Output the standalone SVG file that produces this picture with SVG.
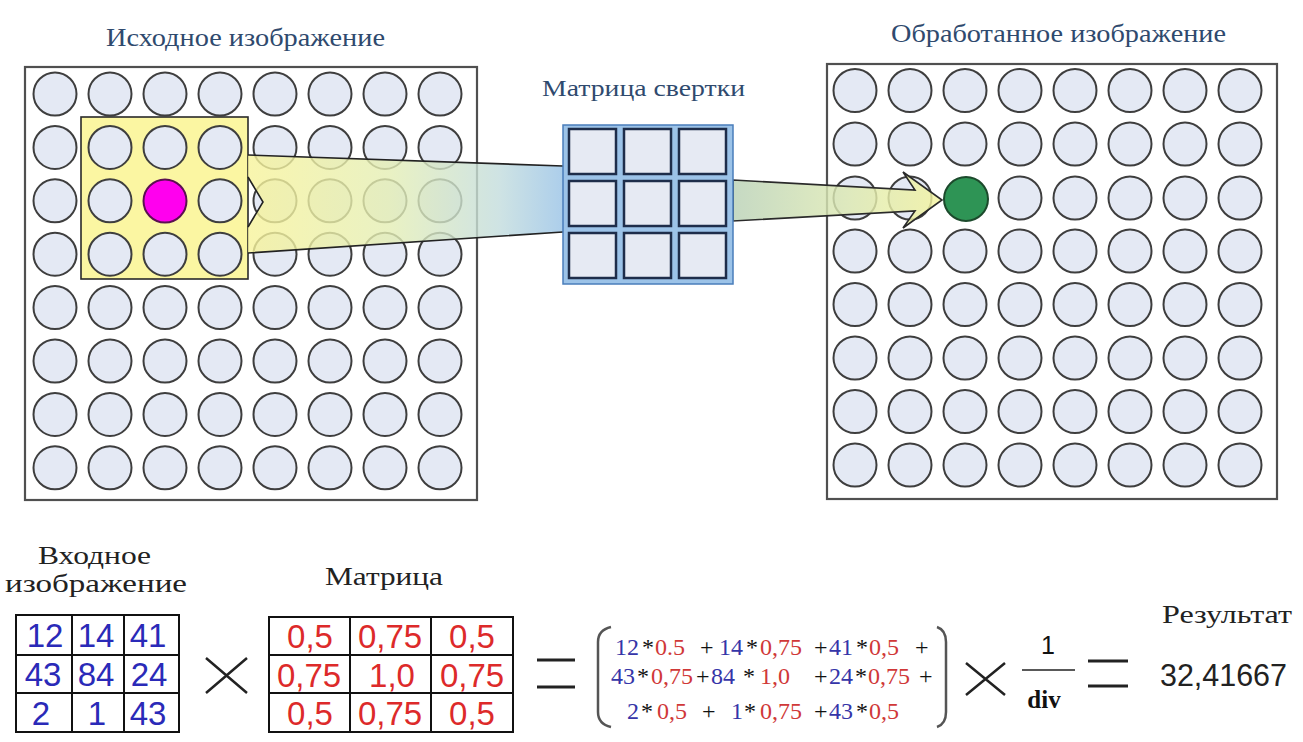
<svg xmlns="http://www.w3.org/2000/svg" width="1303" height="742" viewBox="0 0 1303 742">
<style>
.frame{fill:#fff;stroke:#505050;stroke-width:2.2}
.title{font-family:"Liberation Serif","DejaVu Serif",serif;fill:#2F4A6E}
.lbl{font-family:"Liberation Serif","DejaVu Serif",serif;fill:#222}
.num{font-family:"Liberation Sans",Arial,sans-serif;font-size:33px;text-anchor:middle}
.blue{fill:#2A2AB8}
.red{fill:#DD2A2A}
.tbl{fill:none;stroke:#111;stroke-width:2}
.cell{fill:#E6EAF3;stroke:#1E2D4A;stroke-width:2.5}
.f{font-family:"Liberation Serif","DejaVu Serif",serif;font-size:24px}
.fb{fill:#3535A8}
.fr{fill:#D03838}
.fk{fill:#111}
.op{stroke:#222;stroke-width:2.5;fill:none}
</style>
<defs>
<circle id="dot" cx="0" cy="0" r="21.5" fill="#E4E9F4" stroke="#3E3E3E" stroke-width="2"/>
<linearGradient id="gFunnel" gradientUnits="userSpaceOnUse" x1="248" y1="0" x2="563" y2="0">
<stop offset="0" stop-color="#F7F39A"/>
<stop offset="0.45" stop-color="#E4EEB4"/>
<stop offset="0.8" stop-color="#C2DCDD"/>
<stop offset="1" stop-color="#98C2E6"/>
</linearGradient>
<linearGradient id="gArrow" gradientUnits="userSpaceOnUse" x1="733" y1="0" x2="942" y2="0">
<stop offset="0" stop-color="#B9D1B6"/>
<stop offset="0.55" stop-color="#DDE9B2"/>
<stop offset="1" stop-color="#F4F49E"/>
</linearGradient>
</defs>

<g id="source-image">
<text class="title" x="106" y="46" font-size="25" textLength="279" lengthAdjust="spacingAndGlyphs">Исходное изображение</text>
<rect class="frame" x="25" y="67" width="452" height="433"/>
<g>
<use href="#dot" x="55" y="94"/><use href="#dot" x="110" y="94"/><use href="#dot" x="165" y="94"/><use href="#dot" x="220" y="94"/><use href="#dot" x="275" y="94"/><use href="#dot" x="330" y="94"/><use href="#dot" x="385" y="94"/><use href="#dot" x="440" y="94"/>
<use href="#dot" x="55" y="147.4"/><use href="#dot" x="275" y="147.4"/><use href="#dot" x="330" y="147.4"/><use href="#dot" x="385" y="147.4"/><use href="#dot" x="440" y="147.4"/>
<use href="#dot" x="55" y="200.8"/><use href="#dot" x="275" y="200.8"/><use href="#dot" x="330" y="200.8"/><use href="#dot" x="385" y="200.8"/><use href="#dot" x="440" y="200.8"/>
<use href="#dot" x="55" y="254.2"/><use href="#dot" x="275" y="254.2"/><use href="#dot" x="330" y="254.2"/><use href="#dot" x="385" y="254.2"/><use href="#dot" x="440" y="254.2"/>
<use href="#dot" x="55" y="307.6"/><use href="#dot" x="110" y="307.6"/><use href="#dot" x="165" y="307.6"/><use href="#dot" x="220" y="307.6"/><use href="#dot" x="275" y="307.6"/><use href="#dot" x="330" y="307.6"/><use href="#dot" x="385" y="307.6"/><use href="#dot" x="440" y="307.6"/>
<use href="#dot" x="55" y="361"/><use href="#dot" x="110" y="361"/><use href="#dot" x="165" y="361"/><use href="#dot" x="220" y="361"/><use href="#dot" x="275" y="361"/><use href="#dot" x="330" y="361"/><use href="#dot" x="385" y="361"/><use href="#dot" x="440" y="361"/>
<use href="#dot" x="55" y="414.4"/><use href="#dot" x="110" y="414.4"/><use href="#dot" x="165" y="414.4"/><use href="#dot" x="220" y="414.4"/><use href="#dot" x="275" y="414.4"/><use href="#dot" x="330" y="414.4"/><use href="#dot" x="385" y="414.4"/><use href="#dot" x="440" y="414.4"/>
<use href="#dot" x="55" y="467.8"/><use href="#dot" x="110" y="467.8"/><use href="#dot" x="165" y="467.8"/><use href="#dot" x="220" y="467.8"/><use href="#dot" x="275" y="467.8"/><use href="#dot" x="330" y="467.8"/><use href="#dot" x="385" y="467.8"/><use href="#dot" x="440" y="467.8"/>
</g>
<rect x="81" y="117" width="167" height="162" fill="#FBF6A2" stroke="#2A2A2A" stroke-width="1.6"/>
<use href="#dot" x="110" y="147.4"/><use href="#dot" x="165" y="147.4"/><use href="#dot" x="220" y="147.4"/>
<use href="#dot" x="110" y="200.8"/><use href="#dot" x="220" y="200.8"/>
<use href="#dot" x="110" y="254.2"/><use href="#dot" x="165" y="254.2"/><use href="#dot" x="220" y="254.2"/>
<circle cx="165" cy="201" r="21.5" fill="#FF00EE" stroke="#5A1050" stroke-width="2"/>
</g>

<g id="result-image">
<text class="title" x="891" y="42" font-size="25" textLength="335" lengthAdjust="spacingAndGlyphs">Обработанное изображение</text>
<rect class="frame" x="827" y="64" width="450" height="435"/>
<use href="#dot" x="855" y="90.5"/><use href="#dot" x="910" y="90.5"/><use href="#dot" x="965" y="90.5"/><use href="#dot" x="1020" y="90.5"/><use href="#dot" x="1075" y="90.5"/><use href="#dot" x="1130" y="90.5"/><use href="#dot" x="1185" y="90.5"/><use href="#dot" x="1240" y="90.5"/>
<use href="#dot" x="855" y="144"/><use href="#dot" x="910" y="144"/><use href="#dot" x="965" y="144"/><use href="#dot" x="1020" y="144"/><use href="#dot" x="1075" y="144"/><use href="#dot" x="1130" y="144"/><use href="#dot" x="1185" y="144"/><use href="#dot" x="1240" y="144"/>
<use href="#dot" x="855" y="198"/><use href="#dot" x="910" y="198"/><use href="#dot" x="1020" y="198"/><use href="#dot" x="1075" y="198"/><use href="#dot" x="1130" y="198"/><use href="#dot" x="1185" y="198"/><use href="#dot" x="1240" y="198"/>
<use href="#dot" x="855" y="251"/><use href="#dot" x="910" y="251"/><use href="#dot" x="965" y="251"/><use href="#dot" x="1020" y="251"/><use href="#dot" x="1075" y="251"/><use href="#dot" x="1130" y="251"/><use href="#dot" x="1185" y="251"/><use href="#dot" x="1240" y="251"/>
<use href="#dot" x="855" y="304.5"/><use href="#dot" x="910" y="304.5"/><use href="#dot" x="965" y="304.5"/><use href="#dot" x="1020" y="304.5"/><use href="#dot" x="1075" y="304.5"/><use href="#dot" x="1130" y="304.5"/><use href="#dot" x="1185" y="304.5"/><use href="#dot" x="1240" y="304.5"/>
<use href="#dot" x="855" y="358"/><use href="#dot" x="910" y="358"/><use href="#dot" x="965" y="358"/><use href="#dot" x="1020" y="358"/><use href="#dot" x="1075" y="358"/><use href="#dot" x="1130" y="358"/><use href="#dot" x="1185" y="358"/><use href="#dot" x="1240" y="358"/>
<use href="#dot" x="855" y="411.5"/><use href="#dot" x="910" y="411.5"/><use href="#dot" x="965" y="411.5"/><use href="#dot" x="1020" y="411.5"/><use href="#dot" x="1075" y="411.5"/><use href="#dot" x="1130" y="411.5"/><use href="#dot" x="1185" y="411.5"/><use href="#dot" x="1240" y="411.5"/>
<use href="#dot" x="855" y="465"/><use href="#dot" x="910" y="465"/><use href="#dot" x="965" y="465"/><use href="#dot" x="1020" y="465"/><use href="#dot" x="1075" y="465"/><use href="#dot" x="1130" y="465"/><use href="#dot" x="1185" y="465"/><use href="#dot" x="1240" y="465"/>
<circle cx="966" cy="199" r="22" fill="#2E9455" stroke="#1C4A2C" stroke-width="2"/>
</g>

<g id="connectors">
<path d="M248,155 L563,166 L563,232 L248,253 L248,227 L263,202 L248,177 Z" fill="url(#gFunnel)" fill-opacity="0.8" stroke="none"/>
<path d="M248,155 L563,166 M563,232 L248,253 M248,227 L263,202 L248,177" fill="none" stroke="#222" stroke-width="1.6"/>
<path d="M733,180 L915,190 L903,172 L942,200 L903,228 L915,211 L733,221 Z" fill="url(#gArrow)" fill-opacity="0.82" stroke="#2A2A2A" stroke-width="1.6"/>
</g>

<g id="kernel">
<text class="title" x="542" y="96" font-size="23" textLength="203" lengthAdjust="spacingAndGlyphs">Матрица свертки</text>
<rect x="563" y="125" width="170" height="159" fill="#9CC3E8" stroke="#4A7EBB" stroke-width="1.5"/>
<rect class="cell" x="569" y="129" width="47" height="45"/>
<rect class="cell" x="624" y="129" width="47" height="45"/>
<rect class="cell" x="679" y="129" width="47" height="45"/>
<rect class="cell" x="569" y="181" width="47" height="45"/>
<rect class="cell" x="624" y="181" width="47" height="45"/>
<rect class="cell" x="679" y="181" width="47" height="45"/>
<rect class="cell" x="569" y="233" width="47" height="45"/>
<rect class="cell" x="624" y="233" width="47" height="45"/>
<rect class="cell" x="679" y="233" width="47" height="45"/>
</g>

<g id="input-table">
<text class="lbl" x="38" y="564" font-size="26" textLength="113" lengthAdjust="spacingAndGlyphs">Входное</text>
<text class="lbl" x="5" y="592" font-size="26" textLength="182" lengthAdjust="spacingAndGlyphs">изображение</text>
<rect class="tbl" x="16" y="615" width="163" height="117"/>
<path class="tbl" d="M72,615 V732 M124,615 V732 M16,655 H179 M16,693 H179"/>
<g class="num blue">
<text x="45" y="647">12</text><text x="96" y="647">14</text><text x="148" y="647">41</text>
<text x="43" y="686">43</text><text x="96" y="686">84</text><text x="149" y="686">24</text>
<text x="41" y="725">2</text><text x="97" y="725">1</text><text x="148" y="725">43</text>
</g>
</g>

<g id="times-1">
<path class="op" d="M206,658 L247,693 M247,658 L206,693"/>
</g>

<g id="kernel-table">
<text class="lbl" x="325" y="585" font-size="26" textLength="118" lengthAdjust="spacingAndGlyphs">Матрица</text>
<rect class="tbl" x="269" y="617" width="244" height="115"/>
<path class="tbl" d="M350,617 V732 M431,617 V732 M269,655 H513 M269,693 H513"/>
<g class="num red">
<text x="310" y="648">0,5</text><text x="390" y="648">0,75</text><text x="472" y="648">0,5</text>
<text x="309" y="687">0,75</text><text x="392" y="687">1,0</text><text x="472" y="687">0,75</text>
<text x="310" y="725">0,5</text><text x="390" y="725">0,75</text><text x="472" y="725">0,5</text>
</g>
</g>

<g id="equals-1">
<path d="M537,660 H575 M537,687 H575" stroke="#222" stroke-width="3"/>
</g>

<g id="sum-expression">
<path d="M611,627 Q598,630 598,642 V712 Q598,724 611,727" fill="none" stroke="#555" stroke-width="2.5"/>
<path d="M937,627 Q946,630 946,642 V712 Q946,724 937,727" fill="none" stroke="#555" stroke-width="2.5"/>
<text class="f" y="655"><tspan class="fb" x="615">12</tspan><tspan class="fk" x="642">*</tspan><tspan class="fr" x="655">0.5</tspan><tspan class="fk" x="700">+</tspan><tspan class="fb" x="719">14</tspan><tspan class="fk" x="746">*</tspan><tspan class="fr" x="760">0,75</tspan><tspan class="fk" x="814">+</tspan><tspan class="fb" x="829">41</tspan><tspan class="fk" x="856">*</tspan><tspan class="fr" x="869">0,5</tspan><tspan class="fk" x="915">+</tspan></text>
<text class="f" y="684"><tspan class="fb" x="611">43</tspan><tspan class="fk" x="637">*</tspan><tspan class="fr" x="651">0,75</tspan><tspan class="fk" x="696">+</tspan><tspan class="fb" x="711">84</tspan><tspan class="fk" x="743">*</tspan><tspan class="fr" x="760">1,0</tspan><tspan class="fk" x="814">+</tspan><tspan class="fb" x="829">24</tspan><tspan class="fk" x="855">*</tspan><tspan class="fr" x="868">0,75</tspan><tspan class="fk" x="919">+</tspan></text>
<text class="f" y="719"><tspan class="fb" x="627">2</tspan><tspan class="fk" x="641">*</tspan><tspan class="fr" x="657">0,5</tspan><tspan class="fk" x="702">+</tspan><tspan class="fb" x="731">1</tspan><tspan class="fk" x="744">*</tspan><tspan class="fr" x="760">0,75</tspan><tspan class="fk" x="814">+</tspan><tspan class="fb" x="829">43</tspan><tspan class="fk" x="856">*</tspan><tspan class="fr" x="869">0,5</tspan></text>
</g>

<g id="times-2">
<path class="op" d="M966,663 L1005,695 M1005,663 L966,695"/>
</g>

<g id="fraction">
<text x="1048" y="654" font-family="Liberation Sans, Arial, sans-serif" font-size="25" text-anchor="middle" fill="#111">1</text>
<path d="M1022,670 H1075" stroke="#222" stroke-width="1.5"/>
<text x="1044" y="708" font-family="Liberation Serif, serif" font-size="25" font-weight="bold" text-anchor="middle" fill="#111">div</text>
</g>

<g id="equals-2">
<path d="M1088,661 H1128 M1088,686 H1128" stroke="#222" stroke-width="3"/>
</g>

<g id="result">
<text class="lbl" x="1162" y="623" font-size="25" fill="#333" textLength="130" lengthAdjust="spacingAndGlyphs">Результат</text>
<text x="1160" y="686" font-family="Liberation Sans, Arial, sans-serif" font-size="31" fill="#222" textLength="127" lengthAdjust="spacingAndGlyphs">32,41667</text>
</g>
</svg>
